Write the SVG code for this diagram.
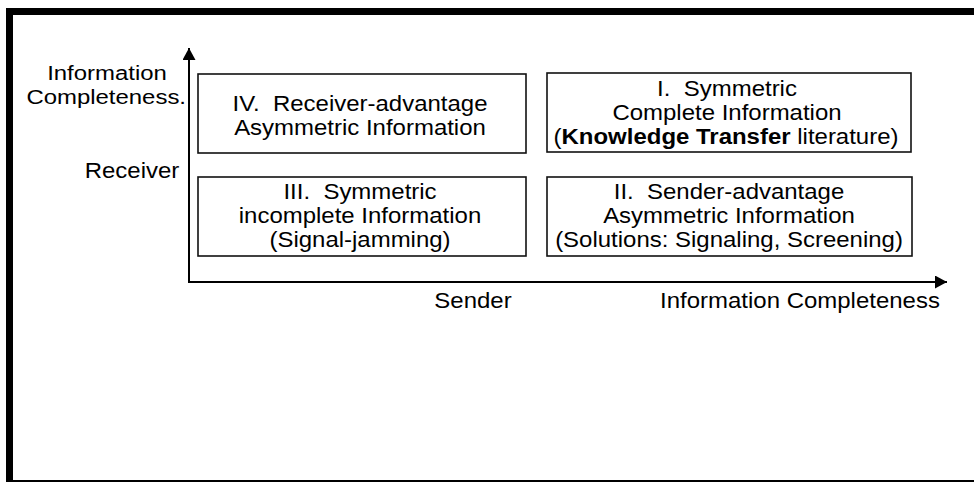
<svg xmlns="http://www.w3.org/2000/svg" width="974" height="482" viewBox="0 0 974 482">
<style>
  .t { font-family: "Liberation Sans", Arial, sans-serif; font-size: 22px; fill: #000; text-anchor: middle; white-space: pre; }
  .s { font-size: 21px; }
  .box { fill: #fff; stroke: #111; stroke-width: 1.6; }
  .axis { fill: none; stroke: #000; stroke-width: 2; }
  .b { font-weight: bold; }
</style>
<defs>
  <marker id="arrow" markerUnits="userSpaceOnUse" markerWidth="12" markerHeight="13" refX="12" refY="6.5" orient="auto">
    <path d="M0,0 L12,6.5 L0,13 z" fill="#000"/>
  </marker>
</defs>
<rect width="974" height="482" fill="#fff"/>
<g id="frame" fill="#000">
  <rect x="6" y="8" width="968" height="7"/>
  <rect x="6" y="8" width="7" height="474"/>
  <rect x="6" y="480" width="968" height="2"/>
</g>
<g id="connectors">
  <path class="axis" d="M189,282 L189,48" marker-end="url(#arrow)"/>
  <path class="axis" d="M188,282 L947,282" marker-end="url(#arrow)"/>
</g>
<g id="axis-labels">
  <text class="t s" transform="translate(107 80) scale(1.14 1)">Information</text>
  <text class="t s" style="text-anchor:end" transform="translate(186 104) scale(1.14 1)">Completeness.</text>
  <text class="t" transform="translate(132 178) scale(1.09 1)">Receiver</text>
  <text class="t" transform="translate(473 308) scale(1.09 1)">Sender</text>
  <text class="t" transform="translate(800 308) scale(1.09 1)">Information Completeness</text>
</g>
<g id="q4">
  <rect class="box" x="198" y="74" width="328" height="79"/>
  <text class="t" transform="translate(360 111) scale(1.09 1)">IV.  Receiver-advantage</text>
  <text class="t" transform="translate(360 135) scale(1.09 1)">Asymmetric Information</text>
</g>
<g id="q1">
  <rect class="box" x="547" y="73" width="364" height="79"/>
  <text class="t" transform="translate(727 96) scale(1.09 1)">I.  Symmetric</text>
  <text class="t" transform="translate(727 120) scale(1.09 1)">Complete Information</text>
  <text class="t" transform="translate(726 144) scale(1.09 1)">(<tspan class="b">Knowledge Transfer</tspan> literature)</text>
</g>
<g id="q3">
  <rect class="box" x="198" y="177" width="328" height="79"/>
  <text class="t" transform="translate(360 199) scale(1.09 1)">III.  Symmetric</text>
  <text class="t" transform="translate(360 223) scale(1.09 1)">incomplete Information</text>
  <text class="t" transform="translate(360 247) scale(1.09 1)">(Signal-jamming)</text>
</g>
<g id="q2">
  <rect class="box" x="547" y="177" width="365" height="79"/>
  <text class="t" transform="translate(729 199) scale(1.09 1)">II.  Sender-advantage</text>
  <text class="t" transform="translate(729 223) scale(1.09 1)">Asymmetric Information</text>
  <text class="t" transform="translate(729 247) scale(1.09 1)">(Solutions: Signaling, Screening)</text>
</g>
</svg>
